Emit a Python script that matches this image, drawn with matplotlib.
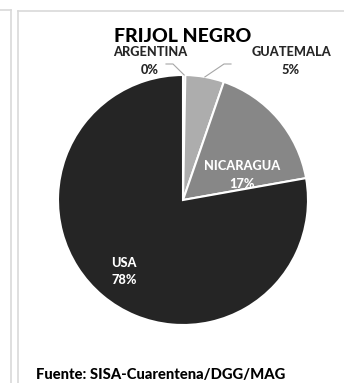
import numpy as np
import matplotlib
matplotlib.use("Agg")
import matplotlib.pyplot as plt
from matplotlib.lines import Line2D

# Data
countries = ["ARGENTINA", "GUATEMALA", "NICARAGUA", "USA"]
shares = [0.3, 5.0, 16.9, 77.8]
pct_labels = ["0%", "5%", "17%", "78%"]
colors = ["#595959", "#adadad", "#878787", "#252525"]

title = "FRIJOL NEGRO"
source = "Fuente: SISA-Cuarentena/DGG/MAG"

W, H = 344, 383
fig = plt.figure(figsize=(W / 100, H / 100), dpi=100)
fig.patch.set_facecolor("white")

FONT = ["Lato", "DejaVu Sans"]
WT = "black"

# frame lines (panel borders)
border = "#d9d9d9"
fig.add_artist(Line2D([0, 11.5 / W], [1 - 9.5 / H, 1 - 9.5 / H], color=border, lw=1.2, transform=fig.transFigure))
fig.add_artist(Line2D([11.5 / W, 11.5 / W], [0, 1 - 9.5 / H], color=border, lw=1.2, transform=fig.transFigure))
fig.add_artist(Line2D([17.5 / W, 1.0], [1 - 10.5 / H, 1 - 10.5 / H], color=border, lw=1.2, transform=fig.transFigure))
fig.add_artist(Line2D([17.5 / W, 17.5 / W], [0, 1 - 10.5 / H], color=border, lw=1.2, transform=fig.transFigure))

# pie axes: center (183,200) px, radius 125 px
cx, cy, r = 183, 200, 125
ax = fig.add_axes([(cx - r) / W, (H - cy - r) / H, 2 * r / W, 2 * r / H])

wedges, _ = ax.pie(shares, colors=colors, startangle=90, counterclock=False,
                   radius=1.0, center=(0, 0),
                   wedgeprops=dict(edgecolor="white", linewidth=1.5))
ax.set_xlim(-1, 1)
ax.set_ylim(-1, 1)
ax.set_aspect("equal")
ax.axis("off")

def px(x, y):
    return ((x - cx) / r, (cy - y) / r)

# Title
fig.text(cx / W, 1 - 37 / H, title, ha="center", va="center", fontsize=14.0,
         fontweight=WT, family=FONT, color="black")

# Outside labels with leader lines
lab_fs = 9.2
for name, pct, (lx, ly1, ly2) in zip(countries[:2], pct_labels[:2],
                                     [(150, 52, 70), (291, 52, 70)]):
    x, y = px(lx, ly1)
    ax.text(x, y, name, ha="center", va="center", fontsize=lab_fs, fontweight=WT,
            family=FONT, color="#262626", clip_on=False)
    x, y = px(lx, ly2)
    ax.text(x, y, pct, ha="center", va="center", fontsize=lab_fs, fontweight=WT,
            family=FONT, color="#262626", clip_on=False)

# leader lines from wedge mid-angles
cum = np.cumsum([0] + shares[:-1])
mids = [90 - (c + s / 2) * 3.6 for c, s in zip(cum, shares)]
lc = "#a6a6a6"
# Argentina
a = np.deg2rad(mids[0])
ex, ey = np.cos(a) * 1.0, np.sin(a) * 1.0
p1 = px(173, 64); p0 = px(166, 64)
ax.plot([p0[0], p1[0], ex], [p0[1], p1[1], ey], color=lc, lw=0.8, clip_on=False)
# Guatemala
a = np.deg2rad(mids[1])
ex, ey = np.cos(a) * 1.0, np.sin(a) * 1.0
p1 = px(224, 64); p0 = px(231, 64)
ax.plot([p0[0], p1[0], ex], [p0[1], p1[1], ey], color=lc, lw=0.8, clip_on=False)

# Inside labels
for name, pct, (lx, ly1, ly2) in zip(countries[2:], pct_labels[2:],
                                     [(242, 166, 184), (124, 263, 280)]):
    x, y = px(lx, ly1)
    ax.text(x, y, name, ha="center", va="center", fontsize=lab_fs, fontweight=WT,
            family=FONT, color="white")
    x, y = px(lx, ly2)
    ax.text(x, y, pct, ha="center", va="center", fontsize=lab_fs, fontweight=WT,
            family=FONT, color="white")

# Source
fig.text(36 / W, 1 - 375 / H, source, ha="left", va="center", fontsize=10.6,
         fontweight=WT, family=FONT, color="black")

fig.savefig("out.png", dpi=100, facecolor="white")
